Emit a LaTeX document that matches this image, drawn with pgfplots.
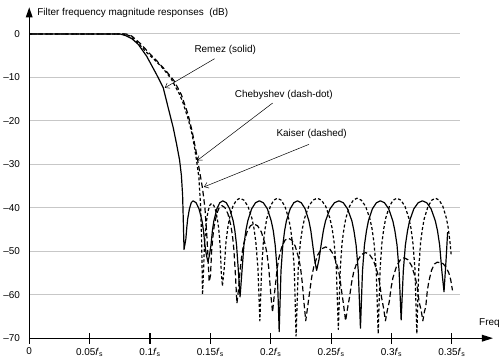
\documentclass[border=0pt]{standalone}
\usepackage{fontspec}
\setmainfont{Liberation Sans}
\usepackage{pgfplots}
\pgfplotsset{compat=1.18}
\usetikzlibrary{arrows.meta}
\begin{document}
\fontsize{10}{12}\selectfont
\begin{tikzpicture}
\begin{axis}[
  x=1214pt, y=4.37pt,
  xmin=0, xmax=0.384, ymin=-70, ymax=6.1,
  axis lines=left,
  clip=false,
  axis line style={draw=none},
  xtick={0,0.05,0.1,0.15,0.2,0.25,0.3,0.35},
  xticklabels={0,0.05\textit{f}\textsubscript{s},0.1\textit{f}\textsubscript{s},0.15\textit{f}\textsubscript{s},0.2\textit{f}\textsubscript{s},0.25\textit{f}\textsubscript{s},0.3\textit{f}\textsubscript{s},0.35\textit{f}\textsubscript{s}},
  ytick={-70,-60,-50,-40,-30,-20,-10,0},
  yticklabels={–70,–60,–50,–40,–30,–20,–10,0},
  tick style={black, line width=1.1pt},
  xtick style={/pgfplots/major tick length=11pt},
  ytick style={/pgfplots/major tick length=0pt},
  tick align=center,
  yticklabel style={xshift=-3.7pt},
  xticklabel style={yshift=-4pt},
  every axis plot/.append style={line width=1.2pt, black, line join=round, mark=none},
]
\pgfplotsinvokeforeach{0,-10,-20,-30,-40,-50,-60}{
  \draw[color=black!22, line width=0.9pt] (axis cs:0,#1) -- (axis cs:0.357,#1);
}
% Remez (solid)
\addplot[black, solid, no marks] coordinates {
(0,0) (0.075,0) (0.08,-0.4) (0.085,-1.1) (0.0903,-2.4) (0.0972,-5.1) (0.1054,-9.3) (0.111,-12.4) (0.115,-16.9) (0.1192,-21.5) (0.122,-25.3) (0.1245,-29) (0.126,-32.5) (0.127,-37) (0.1276,-43) (0.1282,-49.6)
(0.1297,-47.2) (0.1305,-44.5) (0.1312,-42.6) (0.1327,-40.2) (0.1342,-38.8) (0.1357,-38.4)
(0.1382,-38.84) (0.1406,-40.24) (0.1431,-43.0) (0.1443,-45.26) (0.1455,-48.6) (0.1468,-51.0) (0.148,-52.4)
(0.1492,-51.0) (0.1505,-48.6) (0.1517,-45.26) (0.1529,-43.0) (0.1554,-40.24) (0.1578,-38.84) (0.1603,-38.4)
(0.1632,-38.84) (0.166,-40.24) (0.1689,-43.0) (0.1703,-45.26) (0.1717,-48.6) (0.1732,-54.5) (0.1746,-60.5)
(0.1762,-54.5) (0.1778,-48.6) (0.1794,-45.26) (0.181,-43.0) (0.1842,-40.24) (0.1874,-38.84) (0.1906,-38.4)
(0.1939,-38.84) (0.1972,-40.24) (0.2004,-43.0) (0.2021,-45.26) (0.2037,-48.6) (0.2054,-54.5) (0.207,-68.5)
(0.2085,-54.5) (0.21,-48.6) (0.2115,-45.26) (0.213,-43.0) (0.2161,-40.24) (0.2191,-38.84) (0.2221,-38.4)
(0.2253,-38.84) (0.2285,-40.24) (0.2316,-43.0) (0.2332,-45.26) (0.2348,-48.6) (0.2364,-52.0) (0.238,-54.4)
(0.2399,-52.0) (0.2417,-48.6) (0.2436,-45.26) (0.2454,-43.0) (0.2491,-40.24) (0.2528,-38.84) (0.2565,-38.4)
(0.2601,-38.84) (0.2636,-40.24) (0.2672,-43.0) (0.2689,-45.26) (0.2707,-48.6) (0.2725,-54.5) (0.2743,-67.7)
(0.276,-54.5) (0.2776,-48.6) (0.2793,-45.26) (0.2809,-43.0) (0.2842,-40.24) (0.2875,-38.84) (0.2908,-38.4)
(0.2942,-38.84) (0.2977,-40.24) (0.3011,-43.0) (0.3028,-45.26) (0.3046,-48.6) (0.3063,-54.5) (0.308,-65.8)
(0.3098,-54.5) (0.3115,-48.6) (0.3133,-45.26) (0.315,-43.0) (0.3185,-40.24) (0.3221,-38.84) (0.3256,-38.4)
(0.3292,-38.84) (0.3328,-40.24) (0.3363,-43.0) (0.3381,-45.26) (0.3399,-48.6) (0.3417,-54.5) (0.3435,-59.3)
(0.3452,-52) (0.3465,-45.6)
};
% Chebyshev (dash-dot)
\addplot[black, no marks, dash pattern=on 3pt off 2.2pt] coordinates {
(0,0) (0.078,0) (0.083,-0.4) (0.0903,-2.1) (0.0966,-4.1) (0.104,-6) (0.111,-8) (0.1175,-10.3) (0.1247,-14) (0.1274,-15.9) (0.131,-19) (0.134,-22) (0.1365,-25.5) (0.1385,-29) (0.1405,-33) (0.142,-40) (0.1428,-48) (0.1435,-60)
(0.1443,-55.1) (0.145,-49.2) (0.1458,-45.86) (0.1465,-43.61) (0.148,-40.84) (0.1495,-39.44) (0.151,-39)
(0.1528,-39.44) (0.1546,-40.84) (0.1564,-43.61) (0.1573,-45.86) (0.1582,-49.2) (0.1591,-55.1) (0.160,-58)
(0.1615,-53.9) (0.1629,-48.0) (0.1644,-44.66) (0.1658,-42.41) (0.1687,-39.64) (0.1716,-38.24) (0.1745,-37.8)
(0.1778,-38.24) (0.1811,-39.64) (0.1844,-42.41) (0.1861,-44.66) (0.1877,-48.0) (0.1894,-53.9) (0.191,-66)
(0.1925,-53.9) (0.1939,-48.0) (0.1954,-44.66) (0.1968,-42.41) (0.1997,-39.64) (0.2026,-38.24) (0.2055,-37.8)
(0.2086,-38.24) (0.2117,-39.64) (0.2148,-42.41) (0.2164,-44.66) (0.2179,-48.0) (0.2195,-53.9) (0.221,-69.5)
(0.2228,-53.9) (0.2245,-48.0) (0.2263,-44.66) (0.228,-42.41) (0.2315,-39.64) (0.235,-38.24) (0.2385,-37.8)
(0.242,-38.24) (0.2455,-39.64) (0.249,-42.41) (0.2508,-44.66) (0.2525,-48.0) (0.2543,-53.9) (0.256,-68)
(0.2576,-53.9) (0.2591,-48.0) (0.2607,-44.66) (0.2622,-42.41) (0.2653,-39.64) (0.2684,-38.24) (0.2715,-37.8)
(0.275,-38.24) (0.2785,-39.64) (0.282,-42.41) (0.2838,-44.66) (0.2855,-48.0) (0.2873,-53.9) (0.289,-69)
(0.2906,-53.9) (0.2921,-48.0) (0.2937,-44.66) (0.2952,-42.41) (0.2983,-39.64) (0.3014,-38.24) (0.3045,-37.8)
(0.3078,-38.24) (0.3111,-39.64) (0.3144,-42.41) (0.3161,-44.66) (0.3177,-48.0) (0.3194,-53.9) (0.321,-69)
(0.3226,-53.9) (0.3241,-48.0) (0.3257,-44.66) (0.3272,-42.41) (0.3303,-39.64) (0.3334,-38.24) (0.3365,-37.8)
(0.3395,-38.24) (0.3425,-39.64) (0.3455,-42.41) (0.347,-44.66) (0.3485,-48.0) (0.3495,-51)
};
% Kaiser (dashed)
\addplot[black, no marks, dash pattern=on 5.5pt off 3pt] coordinates {
(0,0) (0.08,0) (0.085,-0.5) (0.092,-2.2) (0.099,-4.3) (0.106,-6.3) (0.113,-8.4) (0.12,-10.8) (0.126,-14) (0.1315,-18.5) (0.135,-22.5) (0.1385,-27.5) (0.141,-31.5) (0.1435,-35.5) (0.1455,-40) (0.147,-46) (0.148,-51) (0.149,-57)
(0.1501,-55.6) (0.1511,-49.7) (0.1522,-46.36) (0.1532,-44.11) (0.1553,-41.34) (0.1574,-39.94) (0.1595,-39.5)
(0.162,-39.94) (0.1645,-41.34) (0.167,-44.11) (0.1683,-46.36) (0.1695,-49.7) (0.1708,-55.6) (0.172,-62)
(0.1734,-58.5) (0.1748,-53.9) (0.1762,-50.56) (0.1776,-48.31) (0.1804,-45.54) (0.1832,-44.14) (0.186,-43.7)
(0.1891,-44.14) (0.1922,-45.54) (0.1953,-48.31) (0.1969,-50.56) (0.1984,-53.9) (0.2,-59.8) (0.2015,-64)
(0.2028,-60.5) (0.2041,-57.2) (0.2054,-53.86) (0.2067,-51.61) (0.2093,-48.84) (0.2119,-47.44) (0.2145,-47)
(0.2174,-47.44) (0.2203,-48.84) (0.2232,-51.61) (0.2247,-53.86) (0.2261,-57.2) (0.2276,-62) (0.229,-66)
(0.2307,-62.5) (0.2323,-59.2) (0.234,-55.86) (0.2356,-53.61) (0.2389,-50.84) (0.2422,-49.44) (0.2455,-49)
(0.2488,-49.44) (0.2521,-50.84) (0.2554,-53.61) (0.2571,-55.86) (0.2587,-59.2) (0.2604,-62.5) (0.262,-66)
(0.2637,-63) (0.2653,-60.5) (0.267,-57.16) (0.2686,-54.91) (0.2719,-52.14) (0.2752,-50.74) (0.2785,-50.3)
(0.2818,-50.74) (0.2851,-52.14) (0.2884,-54.91) (0.2901,-57.16) (0.2917,-60.5) (0.2934,-63) (0.295,-66)
(0.2966,-63.5) (0.2981,-61.7) (0.2997,-58.36) (0.3012,-56.11) (0.3043,-53.34) (0.3074,-51.94) (0.3105,-51.5)
(0.3136,-51.94) (0.3167,-53.34) (0.3198,-56.11) (0.3214,-58.36) (0.3229,-61.7) (0.3245,-63.5) (0.326,-66)
(0.3272,-64) (0.3284,-62.7) (0.3296,-59.36) (0.3308,-57.11) (0.3332,-54.34) (0.3356,-52.94) (0.338,-52.5)
(0.3425,-52.8) (0.345,-53.6) (0.3475,-55) (0.349,-56.5) (0.3505,-59)
};
% annotations
\node at (axis cs:0.1623,-3.6) {Remez (solid)};
\draw[line width=0.5pt, -{Straight Barb[length=4pt,width=6pt]}] (axis cs:0.1535,-5.7) -- (axis cs:0.1123,-12.4);
\node at (axis cs:0.2109,-14.0) {Chebyshev (dash-dot)};
\draw[line width=0.5pt, -{Straight Barb[length=4pt,width=6pt]}] (axis cs:0.2016,-15.9) -- (axis cs:0.1392,-29.1);
\node at (axis cs:0.2339,-23.1) {Kaiser (dashed)};
\draw[line width=0.5pt, -{Straight Barb[length=4pt,width=6pt]}] (axis cs:0.2317,-25.4) -- (axis cs:0.1447,-35.2);
\node[anchor=north west, inner sep=0pt] at ([xshift=8pt,yshift=-1pt]rel axis cs:0,1) {Filter frequency magnitude responses\ \ (dB)};
\node[anchor=south east, inner sep=0pt] at ([xshift=7pt,yshift=10pt]rel axis cs:1,0) {Freq};
\coordinate (O) at (axis cs:0,-70);
\coordinate (XE) at (axis cs:0.384,-70);
\coordinate (YE) at (axis cs:0,6.1);
\end{axis}
% axis lines with arrows, drawn after the axis
\draw[black, line width=1.3pt, line cap=rect] (O) -- ([xshift=-6pt]XE);
\draw[black, line width=1.3pt] (O) -- ([yshift=-6pt]YE);
\fill[black] (XE) -- ++(-11pt,3.5pt) -- ++(0,-7pt) -- cycle;
\fill[black] (YE) -- ++(-3.5pt,-10pt) -- ++(7pt,0) -- cycle;
\path (O) ++(-26.7pt,-25pt) rectangle ++(500pt,365pt);
\end{tikzpicture}
\end{document}
